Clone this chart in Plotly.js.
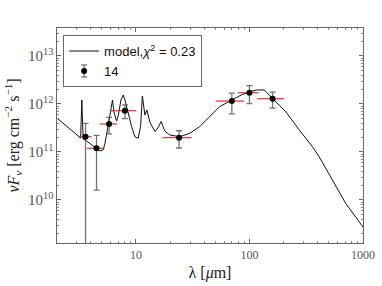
<!DOCTYPE html>
<html>
<head>
<meta charset="utf-8">
<script src="https://cdn.plot.ly/plotly-3.0.1.min.js"></script>
<style>html,body{margin:0;padding:0;background:#fff;}#plot{width:382px;height:286px;}</style>
</head>
<body>
<div id="plot"></div>
<script>
// Model SED (wavelength in micron, nuFnu in erg cm^-2 s^-1)
var modelWl = [2.03, 3.12, 3.26, 3.34, 3.43, 3.57, 3.94, 4.37, 4.83, 5.14, 5.35, 5.57, 5.72, 5.91, 6.22, 6.41, 6.75, 7.02, 7.38, 7.74, 8.01, 8.28, 8.69, 9.17, 9.80, 10.47, 10.99, 11.4, 12.0, 12.5, 13.3, 14.7, 15.6, 16.7, 17.96, 19.9, 24.3, 29.8, 36.4, 44.6, 54.6, 70, 84.6, 100, 115, 135, 150, 166, 210, 275, 359, 411, 538, 705, 1000];
var modelF11 = [5.03, 2.08, 1.95, 12.1, 1.87, 1.78, 1.47, 1.24, 1.05, 1.10, 1.54, 2.87, 4.22, 5.9, 12.1, 6.8, 4.43, 5.9, 12.1, 15.4, 12.1, 8.8, 5.9, 3.37, 2.08, 1.93, 3.37, 14.7, 5.9, 7.5, 4.12, 2.67, 3.16, 4.32, 2.74, 2.26, 2.08, 2.45, 3.37, 5.43, 8.79, 12.1, 15.4, 17.8, 19.6, 19.6, 15.4, 12.1, 6.8, 2.87, 1.29, 0.798, 0.261, 0.085, 0.0274];

// Photometry (source 14)
var dataWl   = [3.6, 4.5, 5.8, 8.0, 24, 70, 100, 160];
var dataWlErr = [0.48, 0.8, 1.0, 2.1, 6.8, 19.5, 21, 43];
var dataF11  = [2.08, 1.19, 3.83, 7.25, 1.99, 11.5, 17.2, 12.9];
var errHi11  = [1.88, 1.03, 1.45, 2.3, 0.78, 5.3, 7.0, 4.7];
var errLo11  = [2.3, 1.03, 1.45, 2.3, 0.78, 5.3, 7.0, 4.7];

var modelName = 'model,<i>χ</i><sup>2</sup> = 0.23';
var dataName = '14';

function e11(a){ return a.map(function(v){ return v*1e11; }); }

var errColor = 'rgba(80,80,80,0.8)';
var traces = [
  {
    x: modelWl, y: e11(modelF11), type: 'scatter', mode: 'lines',
    name: modelName,
    line: {color: '#111', width: 1}
  },
  {
    x: dataWl, y: e11(dataF11), type: 'scatter', mode: 'markers',
    name: dataName,
    marker: {color: '#000', size: 6},
    error_y: {type: 'data', symmetric: false, array: e11(errHi11), arrayminus: e11(errLo11),
              color: errColor, thickness: 1.3, width: 3},
    error_x: {type: 'data', array: dataWlErr, color: 'rgba(225,30,30,0.85)', thickness: 1.3, width: 0}
  }
];

var serif = 'Liberation Serif, DejaVu Serif, serif';
var M = {l: 57, r: 19, t: 28, b: 43};
var W = 382, H = 286;
var layout = {
  width: W, height: H,
  margin: M,
  paper_bgcolor: '#fff', plot_bgcolor: '#fff',
  showlegend: true,
  legend: {
    x: 0.02, y: 0.967, xanchor: 'left', yanchor: 'top',
    bgcolor: 'rgba(255,255,255,0)', bordercolor: '#666', borderwidth: 1,
    font: {family: 'Liberation Sans, Arial, sans-serif', size: 13, color: '#111'},
    tracegroupgap: 0, itemwidth: 30
  },
  xaxis: {
    type: 'log', range: [0.305, 3.0005], dtick: 1,
    exponentformat: 'none',
    ticks: 'inside', ticklen: 4, tickcolor: '#666', mirror: 'allticks',
    showline: true, linecolor: '#666', linewidth: 1.2,
    showgrid: false, zeroline: false,
    minor: {ticks: 'inside', ticklen: 2, tickcolor: '#888', dtick: 'D1', showgrid: false},
    tickfont: {family: serif, size: 12, color: '#555'},
    title: {text: 'λ [<i>μ</i>m]', font: {family: serif, size: 16, color: '#222'}, standoff: 6}
  },
  yaxis: {
    type: 'log', range: [9.104, 13.583], dtick: 1,
    exponentformat: 'power',
    ticks: 'inside', ticklen: 4, tickcolor: '#666', mirror: 'allticks',
    showline: true, linecolor: '#666', linewidth: 1.2,
    showgrid: false, zeroline: false,
    minor: {ticks: 'inside', ticklen: 2, tickcolor: '#888', dtick: 'D1', showgrid: false},
    tickfont: {family: serif, size: 12, color: '#555'},
    title: {text: '<i>νF<sub>ν</sub></i> [erg cm<sup>−2</sup> s<sup>−1</sup>]', font: {family: serif, size: 16, color: '#222'}, standoff: 4}
  }
};

Plotly.newPlot('plot', traces, layout, {staticPlot: true, displayModeBar: false}).then(function(gd){
  // legend glyph for the data series: add its error bar next to the legend marker
  var items = gd.querySelectorAll('.legend .traces');
  if (items.length < 2) return;
  var p = items[1].querySelector('.legendpoints path');
  if (!p) return;
  var r = p.getBoundingClientRect();
  var base = gd.getBoundingClientRect();
  var cx = r.left + r.width / 2 - base.left;
  var cy = r.top + r.height / 2 - base.top;
  var pw = W - M.l - M.r, ph = H - M.t - M.b;
  function px(v){ return (v - M.l) / pw; }
  function py(v){ return (H - M.b - v) / ph; }
  var half = 6, cap = 3;
  var ln = {color: errColor, width: 1.3};
  var shapes = [
    {type: 'line', xref: 'paper', yref: 'paper', x0: px(cx), x1: px(cx), y0: py(cy - half), y1: py(cy + half), line: ln, layer: 'below'},
    {type: 'line', xref: 'paper', yref: 'paper', x0: px(cx - cap), x1: px(cx + cap), y0: py(cy - half), y1: py(cy - half), line: ln, layer: 'below'},
    {type: 'line', xref: 'paper', yref: 'paper', x0: px(cx - cap), x1: px(cx + cap), y0: py(cy + half), y1: py(cy + half), line: ln, layer: 'below'}
  ];
  return Plotly.relayout(gd, {shapes: shapes});
});
</script>
</body>
</html>
